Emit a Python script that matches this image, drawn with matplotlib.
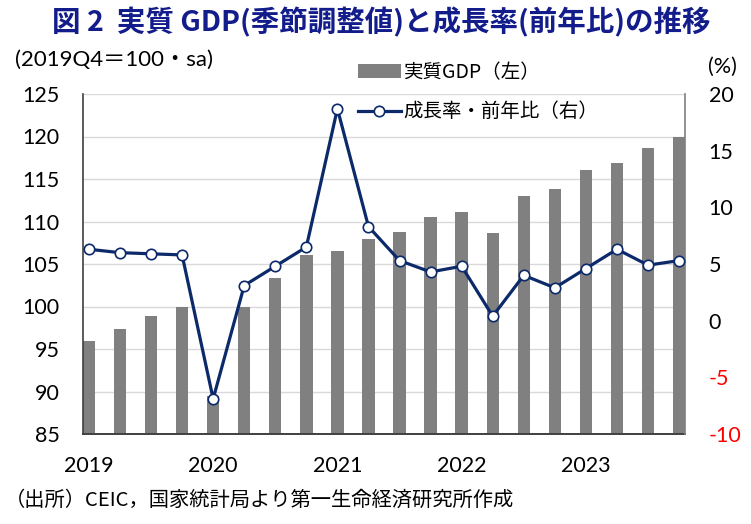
import matplotlib
matplotlib.use("Agg")
import matplotlib.pyplot as plt
from matplotlib.patches import Patch
from matplotlib.lines import Line2D

# ---- data ----
quarters = ["2019Q1", "2019Q2", "2019Q3", "2019Q4",
            "2020Q1", "2020Q2", "2020Q3", "2020Q4",
            "2021Q1", "2021Q2", "2021Q3", "2021Q4",
            "2022Q1", "2022Q2", "2022Q3", "2022Q4",
            "2023Q1", "2023Q2", "2023Q3", "2023Q4"]
gdp_index = [95.9, 97.4, 98.9, 100.0,
             89.5, 100.0, 103.4, 106.1,
             106.5, 107.9, 108.8, 110.5,
             111.1, 108.7, 113.0, 113.8,
             116.1, 116.9, 118.6, 119.9]
growth_yoy = [6.3, 6.0, 5.9, 5.8,
              -6.9, 3.1, 4.8, 6.5,
              18.7, 8.3, 5.3, 4.3,
              4.8, 0.4, 4.0, 2.9,
              4.6, 6.3, 4.9, 5.3]
year_labels = ["2019", "2020", "2021", "2022", "2023"]
year_pos = [0, 4, 8, 12, 16]
left_ticks = [85, 90, 95, 100, 105, 110, 115, 120, 125]
right_ticks = [-10, -5, 0, 5, 10, 15, 20]

title = "図 2  実質 GDP(季節調整値)と成長率(前年比)の推移"
left_unit = "(2019Q4＝100・sa)"
right_unit = "(%)"
legend_bar = "実質GDP（左）"
legend_line = "成長率・前年比（右）"
source = "（出所）CEIC，国家統計局より第一生命経済研究所作成"

# ---- style ----
CJK = ["Noto Sans CJK JP", "DejaVu Sans"]
NUM = ["Lato", "Noto Sans CJK JP", "DejaVu Sans"]
plt.rcParams["font.family"] = CJK

bar_color = "#808080"
line_color = "#0c2a6a"
title_color = "#121c8a"

fig = plt.figure(figsize=(7.51, 5.24), dpi=100)
ax = fig.add_axes([83/751, 1-434/524, (685-83)/751, (434-94)/524])

x = list(range(len(quarters)))
ax.bar(x, gdp_index, width=0.40, color=bar_color, zorder=2)
ax.set_xlim(-0.19, len(quarters) - 1 + 0.19)
ax.set_ylim(85, 125)
ax.set_yticks(left_ticks)
ax.set_yticklabels([str(v) for v in left_ticks], fontfamily=NUM, fontsize=15.5)
ax.tick_params(axis="y", length=0, pad=17)
ax.set_xticks(year_pos)
ax.set_xticklabels(year_labels, fontfamily=NUM, fontsize=15.5)
ax.tick_params(axis="x", length=0, pad=16)
ax.grid(axis="y", color="#d9d9d9", linewidth=1.0, zorder=0)
ax.set_axisbelow(True)
ax.spines["top"].set_visible(False)
ax.spines["left"].set_color("#404040")
ax.spines["left"].set_linewidth(1.2)
ax.spines["bottom"].set_color("#404040")
ax.spines["bottom"].set_linewidth(1.4)
ax.spines["right"].set_visible(False)

ax2 = ax.twinx()
ax2.plot(x, growth_yoy, color=line_color, linewidth=2.3, marker="o",
         markersize=7.5, markerfacecolor="white", markeredgecolor=line_color,
         markeredgewidth=1.2, zorder=3)
ax2.set_ylim(-10, 20)
ax2.set_yticks(right_ticks)
ax2.set_yticklabels([str(v) for v in right_ticks], fontfamily=NUM, fontsize=15.5)
for lab, v in zip(ax2.get_yticklabels(), right_ticks):
    lab.set_color("#ff0000" if v < 0 else "black")
ax2.tick_params(axis="y", length=0, pad=17)
ax2.spines["top"].set_visible(False)
ax2.spines["left"].set_visible(False)
ax2.spines["bottom"].set_visible(False)
ax2.spines["right"].set_color("#808080")
ax2.spines["right"].set_linewidth(1.2)

handles = [Patch(facecolor=bar_color, edgecolor="none"),
           Line2D([0], [0], color=line_color, linewidth=2.3, marker="o",
                  markersize=7.5, markerfacecolor="white",
                  markeredgecolor=line_color, markeredgewidth=1.2)]
fig.legend(handles, [legend_bar, legend_line], loc="upper left",
           bbox_to_anchor=(358/751, 1-62/524), frameon=False,
           prop={"family": CJK, "size": 14}, handlelength=2.2,
           handletextpad=0.15, labelspacing=0.95, borderpad=0,
           borderaxespad=0)

fig.text(381/751, 1-22/524, title, ha="center", va="center",
         fontsize=20.5, fontweight="bold", color=title_color, family=CJK)
fig.text(15/751, 1-60/524, left_unit, ha="left", va="center",
         fontsize=16, family=NUM)
fig.text(737/751, 1-67/524, right_unit, ha="right", va="center",
         fontsize=15.5, family=NUM)
fig.text(5/751, 1-500/524, source, ha="left", va="center",
         fontsize=14.6, family=CJK)

fig.savefig("out.png", dpi=100)
